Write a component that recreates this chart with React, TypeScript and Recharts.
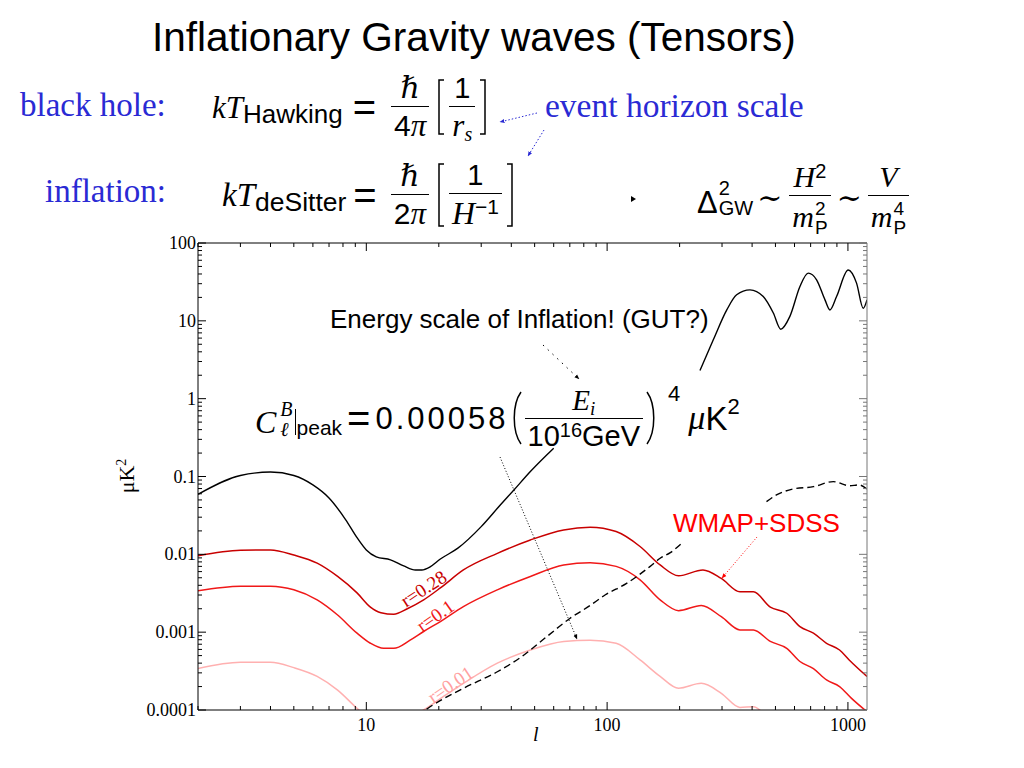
import React from 'react';
import { LineChart, Line, XAxis, YAxis } from 'recharts';

// multipole l and C_l (muK^2)
// black solid: E-mode spectrum (null = hidden behind the formula)
const eeL = [2, 3, 4, 5, 6, 7, 8.2, 9.2, 10, 11, 12.6, 14.3, 16, 17, 18.4, 20.3, 24, 30, 36, 41, 48, 60, 100, 243, 276, 314, 345, 392, 445, 490, 526, 574, 632, 684, 741, 803, 842, 897, 1002, 1086, 1157, 1200];
const eeV = [0.059, 0.103, 0.114, 0.103, 0.078, 0.053, 0.028, 0.016, 0.0114, 0.0093, 0.0085, 0.0071, 0.0063, 0.0063, 0.0069, 0.0087, 0.012, 0.0227, 0.043, 0.067, 0.116, 0.231, null, 2.3, 5.7, 13.8, 21.6, 25, 20.5, 12.6, 7.8, 11.4, 27.6, 41, 33.7, 18.6, 13.8, 20.5, 45, 30.5, 14.5, 18.6];

// tensor B-modes, r = 0.28
const r28L = [2, 3, 4, 5, 6.25, 7.6, 9.15, 10.4, 11.5, 13, 14.8, 17.3, 20.3, 25.3, 35, 48, 66, 85, 109, 137, 166, 198, 250, 298, 356, 405, 476, 557, 632, 719, 815, 923, 1012, 1200];
const r28V = [0.0096, 0.0113, 0.0114, 0.0098, 0.0077, 0.0052, 0.0032, 0.0021, 0.00178, 0.0017, 0.002, 0.0026, 0.0037, 0.0063, 0.0103, 0.0153, 0.0206, 0.0223, 0.0196, 0.0126, 0.0073, 0.0053, 0.0063, 0.0049, 0.0033, 0.0033, 0.0021, 0.00175, 0.00118, 0.00097, 0.00072, 0.00059, 0.00044, 0.00027];

// r = 0.1
const r10L = [2, 3, 4, 5, 6.25, 7.6, 9.15, 10.4, 11.8, 13, 15.2, 17.3, 20.3, 25.3, 35, 48, 66, 85, 109, 137, 166, 198, 246, 298, 356, 405, 476, 557, 632, 719, 815, 923, 1035, 1200];
const r10V = [0.0034, 0.0039, 0.0039, 0.0035, 0.0026, 0.00166, 0.00097, 0.00072, 0.00062, 0.00062, 0.00079, 0.00102, 0.00137, 0.00213, 0.0035, 0.0052, 0.0073, 0.0078, 0.007, 0.0047, 0.0026, 0.00189, 0.0022, 0.00158, 0.00107, 0.00107, 0.00076, 0.00062, 0.00042, 0.00034, 0.000243, 0.0002, 0.000141, 0.000095];

// r = 0.01
const r01L = [2, 3, 4, 5, 6.25, 7.6, 9.15, 10.4, 11.8, 13, 15.2, 17.3, 20.3, 25.3, 35, 48, 66, 85, 109, 137, 166, 198, 246, 298, 356, 405, 476, 557];
const r01V = [0.00034, 0.00041, 0.00041, 0.00035, 0.00027, 0.00018, 0.000105, 0.000075, 0.000062, 0.000062, 0.00008, 0.0001, 0.00014, 0.00022, 0.0004, 0.00059, 0.00076, 0.00079, 0.00072, 0.00044, 0.00027, 0.00019, 0.00022, 0.000164, 0.000108, 0.00011, 0.000076, 0.000062];

// black dashed: lensing B-modes (null = hidden behind WMAP+SDSS)
const lensL = [15, 18.4, 25.3, 35, 44, 56, 70, 85, 98, 120, 150, 166, 183, 204, 300, 459, 505, 591, 719, 869, 1015, 1109, 1200];
const lensV = [0.00007, 0.00011, 0.00019, 0.00031, 0.00048, 0.00087, 0.0015, 0.0022, 0.003, 0.0042, 0.0069, 0.0089, 0.0105, 0.0139, null, 0.0476, 0.058, 0.069, 0.074, 0.086, 0.076, 0.078, 0.069];

const xTicks = [2, 3, 4, 5, 6, 7, 8, 9, 10, 20, 30, 40, 50, 60, 70, 80, 90, 100, 200, 300, 400, 500, 600, 700, 800, 900, 1000];
const xMajor = [10, 100, 1000];
const xLabels = ['10', '100', '1000'];
const yMajor = [0.0001, 0.001, 0.01, 0.1, 1, 10, 100];
const yLabels = ['0.0001', '0.001', '0.01', '0.1', '1', '10', '100'];

const rows = (ls: number[], vs: (number | null)[]) => ls.map((l, i) => ({ l, v: vs[i] }));

const yTicks: number[] = [];
yMajor.forEach((d, i) => {
  yTicks.push(d);
  if (i < yMajor.length - 1) for (let k = 2; k <= 9; k++) yTicks.push(d * k);
});

const serif = '"Liberation Serif", "DejaVu Serif", serif';
const sans = '"Liberation Sans", "DejaVu Sans", sans-serif';
const blue = '#2a2ad4';

const labelOf = (v: number, majors: number[], labels: string[]) => {
  const i = majors.findIndex((m) => Math.abs(Math.log10(m) - Math.log10(v)) < 1e-6);
  return i >= 0 ? labels[i] : null;
};

const tickText = { fontFamily: serif, fontSize: 18, fill: '#000' };

function BottomTick(p: any) {
  const lab = labelOf(p.payload.value, xMajor, xLabels);
  return (
    <g>
      <line x1={p.x} x2={p.x} y1={p.y} y2={p.y - (lab ? 8 : 4)} stroke="#000" />
      {lab && <text x={p.x} y={p.y + 21} textAnchor="middle" style={tickText}>{lab}</text>}
    </g>
  );
}
function TopTick(p: any) {
  const lab = labelOf(p.payload.value, xMajor, xLabels);
  return <line x1={p.x} x2={p.x} y1={p.y} y2={p.y + (lab ? 8 : 4)} stroke="#000" />;
}
function LeftTick(p: any) {
  const lab = labelOf(p.payload.value, yMajor, yLabels);
  return (
    <g>
      <line x1={p.x} x2={p.x + (lab ? 8 : 4)} y1={p.y} y2={p.y} stroke="#000" />
      {lab && <text x={p.x - 2} y={p.y + 6} textAnchor="end" style={tickText}>{lab}</text>}
    </g>
  );
}
function RightTick(p: any) {
  const lab = labelOf(p.payload.value, yMajor, yLabels);
  return <line x1={p.x} x2={p.x - (lab ? 8 : 4)} y1={p.y} y2={p.y} stroke="#777" />;
}

function It({ s, children, style }: any) {
  return <span style={{ fontFamily: serif, fontStyle: 'italic', fontSize: s, lineHeight: 1, ...style }}>{children}</span>;
}
function Sf({ s, children, style }: any) {
  return <span style={{ fontFamily: sans, fontSize: s, lineHeight: 1, ...style }}>{children}</span>;
}
function Frac({ num, den, m = 5 }: any) {
  return (
    <span style={{ display: 'inline-flex', flexDirection: 'column', alignItems: 'center', margin: `0 ${m}px` }}>
      <span style={{ lineHeight: 1, padding: '0 3px 3px', whiteSpace: 'nowrap' }}>{num}</span>
      <span style={{ alignSelf: 'stretch', borderTop: '1.5px solid #000' }} />
      <span style={{ lineHeight: 1, padding: '3px 3px 0', whiteSpace: 'nowrap' }}>{den}</span>
    </span>
  );
}
function Stack({ sup, sub, h, ml = 1 }: any) {
  return (
    <span style={{ display: 'inline-flex', flexDirection: 'column', justifyContent: 'space-between', height: h, lineHeight: 1, marginLeft: ml }}>
      <span>{sup}</span>
      <span>{sub}</span>
    </span>
  );
}
function Bracket({ h, left }: any) {
  return (
    <svg width={8} height={h} style={{ margin: '0 3px' }}>
      <path d={left ? `M7 1 H2 V${h - 1} H7` : `M1 1 H6 V${h - 1} H1`} fill="none" stroke="#000" strokeWidth={1.5} />
    </svg>
  );
}
function Paren({ h, left }: any) {
  return (
    <svg width={12} height={h} style={{ margin: '0 2px' }}>
      <path
        d={left ? `M10 1 C1 ${h * 0.25} 1 ${h * 0.75} 10 ${h - 1}` : `M2 1 C11 ${h * 0.25} 11 ${h * 0.75} 2 ${h - 1}`}
        fill="none"
        stroke="#000"
        strokeWidth={1.5}
      />
    </svg>
  );
}

const row: any = { position: 'absolute', display: 'flex', alignItems: 'center', whiteSpace: 'nowrap', color: '#000' };
const hbar = { fontWeight: 300 };

export default function App() {
  return (
    <div style={{ position: 'absolute', left: 0, top: 0, width: 1024, height: 768, background: '#fff', overflow: 'hidden' }}>
      <LineChart width={1024} height={768} margin={{ top: 242, right: 156, bottom: 28, left: 138 }} style={{ position: 'absolute', left: 0, top: 0 }}>
        <XAxis xAxisId="b" dataKey="l" type="number" scale="log" domain={[2, 1200]} allowDataOverflow ticks={xTicks} interval={0} height={30} tickSize={0} tickMargin={0} tick={BottomTick} axisLine={{ stroke: '#000' }} />
        <XAxis xAxisId="t" orientation="top" dataKey="l" type="number" scale="log" domain={[2, 1200]} allowDataOverflow ticks={xTicks} interval={0} height={1} tickSize={0} tickMargin={0} tick={TopTick} axisLine={{ stroke: '#000' }} />
        <YAxis yAxisId="l" type="number" scale="log" domain={[0.0001, 100]} allowDataOverflow ticks={yTicks} interval={0} width={60} tickSize={0} tickMargin={0} tick={LeftTick} axisLine={{ stroke: '#000' }} />
        <YAxis yAxisId="r" orientation="right" type="number" scale="log" domain={[0.0001, 100]} allowDataOverflow ticks={yTicks} interval={0} width={1} tickSize={0} tickMargin={0} tick={RightTick} axisLine={{ stroke: '#777' }} />
        <Line xAxisId="b" yAxisId="l" data={rows(eeL, eeV)} dataKey="v" type="monotone" stroke="#000" strokeWidth={1.4} dot={false} isAnimationActive={false} />
        <Line xAxisId="b" yAxisId="l" data={rows(r28L, r28V)} dataKey="v" type="monotone" stroke="#c80000" strokeWidth={1.5} dot={false} isAnimationActive={false} />
        <Line xAxisId="b" yAxisId="l" data={rows(r10L, r10V)} dataKey="v" type="monotone" stroke="#f01818" strokeWidth={1.5} dot={false} isAnimationActive={false} />
        <Line xAxisId="b" yAxisId="l" data={rows(r01L, r01V)} dataKey="v" type="monotone" stroke="#ffb0b0" strokeWidth={1.5} dot={false} isAnimationActive={false} />
        <Line xAxisId="b" yAxisId="l" data={rows(lensL, lensV)} dataKey="v" type="monotone" stroke="#000" strokeWidth={1.4} strokeDasharray="7 4" dot={false} isAnimationActive={false} />
      </LineChart>

      <div style={{ position: 'absolute', left: 152, top: 17, fontFamily: sans, fontSize: 40.5, lineHeight: 1, whiteSpace: 'nowrap' }}>Inflationary Gravity waves (Tensors)</div>
      <div style={{ position: 'absolute', left: 20, top: 89, fontFamily: serif, fontSize: 33, lineHeight: 1, color: blue }}>black hole:</div>
      <div style={{ position: 'absolute', left: 45, top: 175, fontFamily: serif, fontSize: 33, lineHeight: 1, color: blue }}>inflation:</div>
      <div style={{ position: 'absolute', left: 545, top: 89, fontFamily: serif, fontSize: 33.5, lineHeight: 1, color: blue, whiteSpace: 'nowrap' }}>event horizon scale</div>

      <div style={{ ...row, left: 212, top: 78, height: 58 }}>
        <It s={31}>kT</It>
        <Sf s={26} style={{ position: 'relative', top: 7 }}>Hawking</Sf>
        <Sf s={40} style={{ margin: '0 10px' }}>=</Sf>
        <Frac num={<It s={30} style={hbar}>ℏ</It>} den={<><Sf s={30}>4</Sf><It s={31}>π</It></>} />
        <Bracket h={56} left />
        <Frac m={1} num={<Sf s={29}>1</Sf>} den={<><It s={31}>r</It><It s={20} style={{ position: 'relative', top: 5 }}>s</It></>} />
        <Bracket h={56} />
      </div>

      <div style={{ ...row, left: 222, top: 162, height: 66 }}>
        <It s={33}>kT</It>
        <Sf s={26.5} style={{ position: 'relative', top: 7 }}>deSitter</Sf>
        <Sf s={40} style={{ margin: '0 9px 0 7px' }}>=</Sf>
        <Frac num={<It s={30} style={hbar}>ℏ</It>} den={<><Sf s={30}>2</Sf><It s={31}>π</It></>} />
        <Bracket h={64} left />
        <Frac m={1} num={<Sf s={29}>1</Sf>} den={<><It s={32}>H</It><Sf s={21} style={{ position: 'relative', top: -10 }}>−1</Sf></>} />
        <Bracket h={64} />
      </div>

      <div style={{ ...row, left: 697, top: 163, height: 70 }}>
        <Sf s={31} style={{ position: 'relative', top: 4 }}>Δ</Sf>
        <Stack h={40} sup={<Sf s={20}>2</Sf>} sub={<Sf s={20}>GW</Sf>} />
        <It s={30} style={{ margin: '0 4px' }}>∼</It>
        <Frac m={3} num={<><It s={30}>H</It><Sf s={20} style={{ position: 'relative', top: -9 }}>2</Sf></>} den={<span style={{ display: 'inline-flex', alignItems: 'center' }}><It s={30}>m</It><Stack h={36} sup={<Sf s={19}>2</Sf>} sub={<Sf s={19}>P</Sf>} /></span>} />
        <It s={30} style={{ margin: '0 3px' }}>∼</It>
        <Frac m={3} num={<It s={30}>V</It>} den={<span style={{ display: 'inline-flex', alignItems: 'center' }}><It s={30}>m</It><Stack h={36} sup={<Sf s={19}>4</Sf>} sub={<Sf s={19}>P</Sf>} /></span>} />
      </div>

      <div style={{ position: 'absolute', left: 330, top: 306, fontFamily: sans, fontSize: 26, lineHeight: 1, whiteSpace: 'nowrap' }}>Energy scale of Inflation! (GUT?)</div>

      <div style={{ ...row, left: 255, top: 384, height: 68 }}>
        <It s={32} style={{ position: 'relative', top: 4 }}>C</It>
        <Stack h={38} ml={4} sup={<It s={20}>B</It>} sub={<It s={20}>ℓ</It>} />
        <span style={{ borderLeft: '1.5px solid #000', height: 26, marginLeft: 2, position: 'relative', top: 4 }} />
        <Sf s={21} style={{ position: 'relative', top: 9, marginLeft: 1 }}>peak</Sf>
        <Sf s={40} style={{ margin: '0 5px' }}>=</Sf>
        <Sf s={31} style={{ letterSpacing: 3 }}>0.00058</Sf>
        <Paren h={54} left />
        <Frac m={0} num={<><It s={29}>E</It><It s={19} style={{ position: 'relative', top: 5 }}>i</It></>} den={<><Sf s={29}>10</Sf><Sf s={20} style={{ position: 'relative', top: -9 }}>16</Sf><Sf s={29}>GeV</Sf></>} />
        <Paren h={54} />
        <Sf s={22} style={{ position: 'relative', top: -24, marginLeft: 9 }}>4</Sf>
        <It s={34} style={{ marginLeft: 8 }}>μ</It>
        <Sf s={33}>K</Sf>
        <Sf s={22} style={{ position: 'relative', top: -11 }}>2</Sf>
      </div>

      <div style={{ position: 'absolute', left: 673, top: 510, fontFamily: sans, fontSize: 26, lineHeight: 1, color: '#ff0000', whiteSpace: 'nowrap' }}>WMAP+SDSS</div>

      <svg width={1024} height={768} style={{ position: 'absolute', left: 0, top: 0, pointerEvents: 'none' }}>
        <defs>
          <marker id="ab" viewBox="0 0 10 10" refX="9" refY="5" markerWidth="5" markerHeight="5" orient="auto">
            <path d="M0,1 L10,5 L0,9 z" fill={blue} />
          </marker>
          <marker id="ak" viewBox="0 0 10 10" refX="9" refY="5" markerWidth="5" markerHeight="5" orient="auto">
            <path d="M0,1 L10,5 L0,9 z" fill="#000" />
          </marker>
          <marker id="ar" viewBox="0 0 10 10" refX="9" refY="5" markerWidth="5" markerHeight="5" orient="auto">
            <path d="M0,1 L10,5 L0,9 z" fill="#ff0000" />
          </marker>
        </defs>
        <line x1={537} y1={113} x2={500} y2={122} stroke={blue} strokeDasharray="1.5 2" markerEnd="url(#ab)" />
        <line x1={544} y1={130} x2={528} y2={156} stroke={blue} strokeDasharray="1.5 2" markerEnd="url(#ab)" />
        <polygon points="631,196 636,199 631,202" fill="#000" />
        <line x1={543} y1={345} x2={579} y2={379} stroke="#000" strokeDasharray="1.5 5" markerEnd="url(#ak)" />
        <line x1={500} y1={457} x2={577} y2={639} stroke="#000" strokeDasharray="1 2" markerEnd="url(#ak)" />
        <line x1={757} y1={537} x2={722} y2={578} stroke="#ff0000" strokeDasharray="1 2" markerEnd="url(#ar)" />

        <text transform="translate(427,594) rotate(-33)" textAnchor="middle" fontFamily={serif} fontSize={19} fill="#c80000">r=0.28</text>
        <text transform="translate(439,621) rotate(-35)" textAnchor="middle" fontFamily={serif} fontSize={19} fill="#f01818">r=0.1</text>
        <text transform="translate(454,690) rotate(-34)" textAnchor="middle" fontFamily={serif} fontSize={19} fill="#ffa0a0">r=0.01</text>

        <text transform="translate(134,476) rotate(-90)" textAnchor="middle" fontFamily={serif} fontSize={22} fill="#000">
          μK<tspan dy={-8} fontSize={14}>2</tspan>
        </text>
        <text x={533} y={741} fontFamily={serif} fontStyle="italic" fontSize={20} fill="#000">l</text>
      </svg>
    </div>
  );
}
